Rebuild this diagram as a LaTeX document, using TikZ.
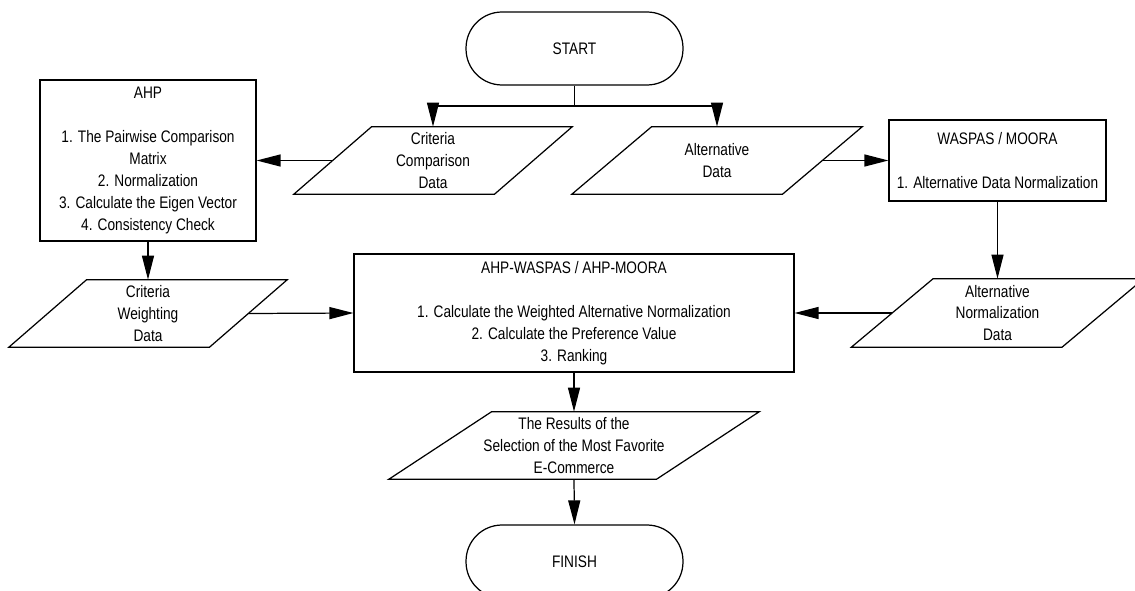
\documentclass[tikz,border=0pt]{standalone}
\usepackage{fontspec}
\setmainfont{Liberation Sans}[FakeStretch=0.82]
\usetikzlibrary{arrows.meta, positioning, calc}
\newcommand{\chartfont}{\fontsize{9.5pt}{12.5pt}\selectfont}
\tikzset{
  flowline/.style={line width=0.7pt, draw=black},
  termbox/.style={flowline, rounded corners=0.72cm, minimum width=4.34cm, minimum height=1.46cm, font=\chartfont},
  procbox/.style={flowline, rectangle, align=center, inner sep=0pt, font=\chartfont},
  iobox/.style={rectangle, align=center, inner sep=0pt, minimum height=1.34cm, font=\chartfont},
  flowarrow/.style={flowline, -{Triangle[length=0.48cm, width=0.24cm]}}
}

\begin{document}
\begin{tikzpicture}[x=0.02cm, y=-0.02cm]
          \useasboundingbox (0,0) rectangle (1135,591);

          % Start / Finish
          \node[termbox] (start) at (574.5,48.5) {START};
          \node[termbox] (finish) at (574.5,561.5) {FINISH};

          % Data nodes
          \node[iobox, minimum width=4cm] (critcomp) at (433,160.5) {Criteria\\Comparison\\Data};
          \node[iobox, minimum width=4.2cm] (altdata) at (717,160.5) {Alternative\\Data};
          \node[iobox, minimum width=4cm] (critweight) at (148,313.5) {Criteria\\Weighting\\Data};
          \node[iobox, minimum width=4.2cm, minimum height=1.36cm] (altnorm) at (997.5,313) {Alternative\\Normalization\\Data};
          \node[iobox, minimum width=5.34cm] (result) at (574,445.5) {The Results of the\\Selection of the Most Favorite\\E-Commerce};
          \foreach \n/\d in {critcomp/0.78, altdata/0.8, critweight/0.78, altnorm/0.82, result/1.03}
            \draw[flowline] ([xshift=\d cm]\n.north west) -- ([xshift=\d cm]\n.north east)
              -- ([xshift=-\d cm]\n.south east) -- ([xshift=-\d cm]\n.south west) -- cycle;

          % Processes
          \node[procbox, minimum width=4.32cm, minimum height=3.22cm] (ahp) at (148,160.5)
            {AHP\\[12.5pt]1. The Pairwise Comparison\\Matrix\\2. Normalization\\3. Calculate the Eigen Vector\\4. Consistency Check};
          \node[procbox, minimum width=4.34cm, minimum height=1.62cm] (waspas) at (997.5,160.5)
            {WASPAS / MOORA\\[12.5pt]1. Alternative Data Normalization};
          \node[procbox, minimum width=8.8cm, minimum height=2.36cm] (combined) at (574,313)
            {AHP-WASPAS / AHP-MOORA\\[12.5pt]1. Calculate the Weighted Alternative Normalization\\2. Calculate the Preference Value\\3. Ranking};

          % Connectors
          \coordinate (split) at (574.5,106);
          \draw[flowline] (start.south) -- (split);
          \draw[flowarrow] (split) -| (critcomp.north);
          \draw[flowarrow] (split) -| (altdata.north);
          \draw[flowarrow] (critcomp.west) -- (ahp.east);
          \draw[flowarrow] (altdata.east) -- (waspas.west);
          \draw[flowarrow] (ahp.south) -- (critweight.north);
          \draw[flowarrow] (waspas.south) -- (altnorm.north);
          \draw[flowarrow] (critweight.east) -- (combined.west);
          \draw[flowarrow] (altnorm.west) -- (combined.east);
          \draw[flowarrow] (combined.south) -- (result.north);
          \draw[flowarrow] (result.south) -- (finish.north);
        \end{tikzpicture}
\end{document}
